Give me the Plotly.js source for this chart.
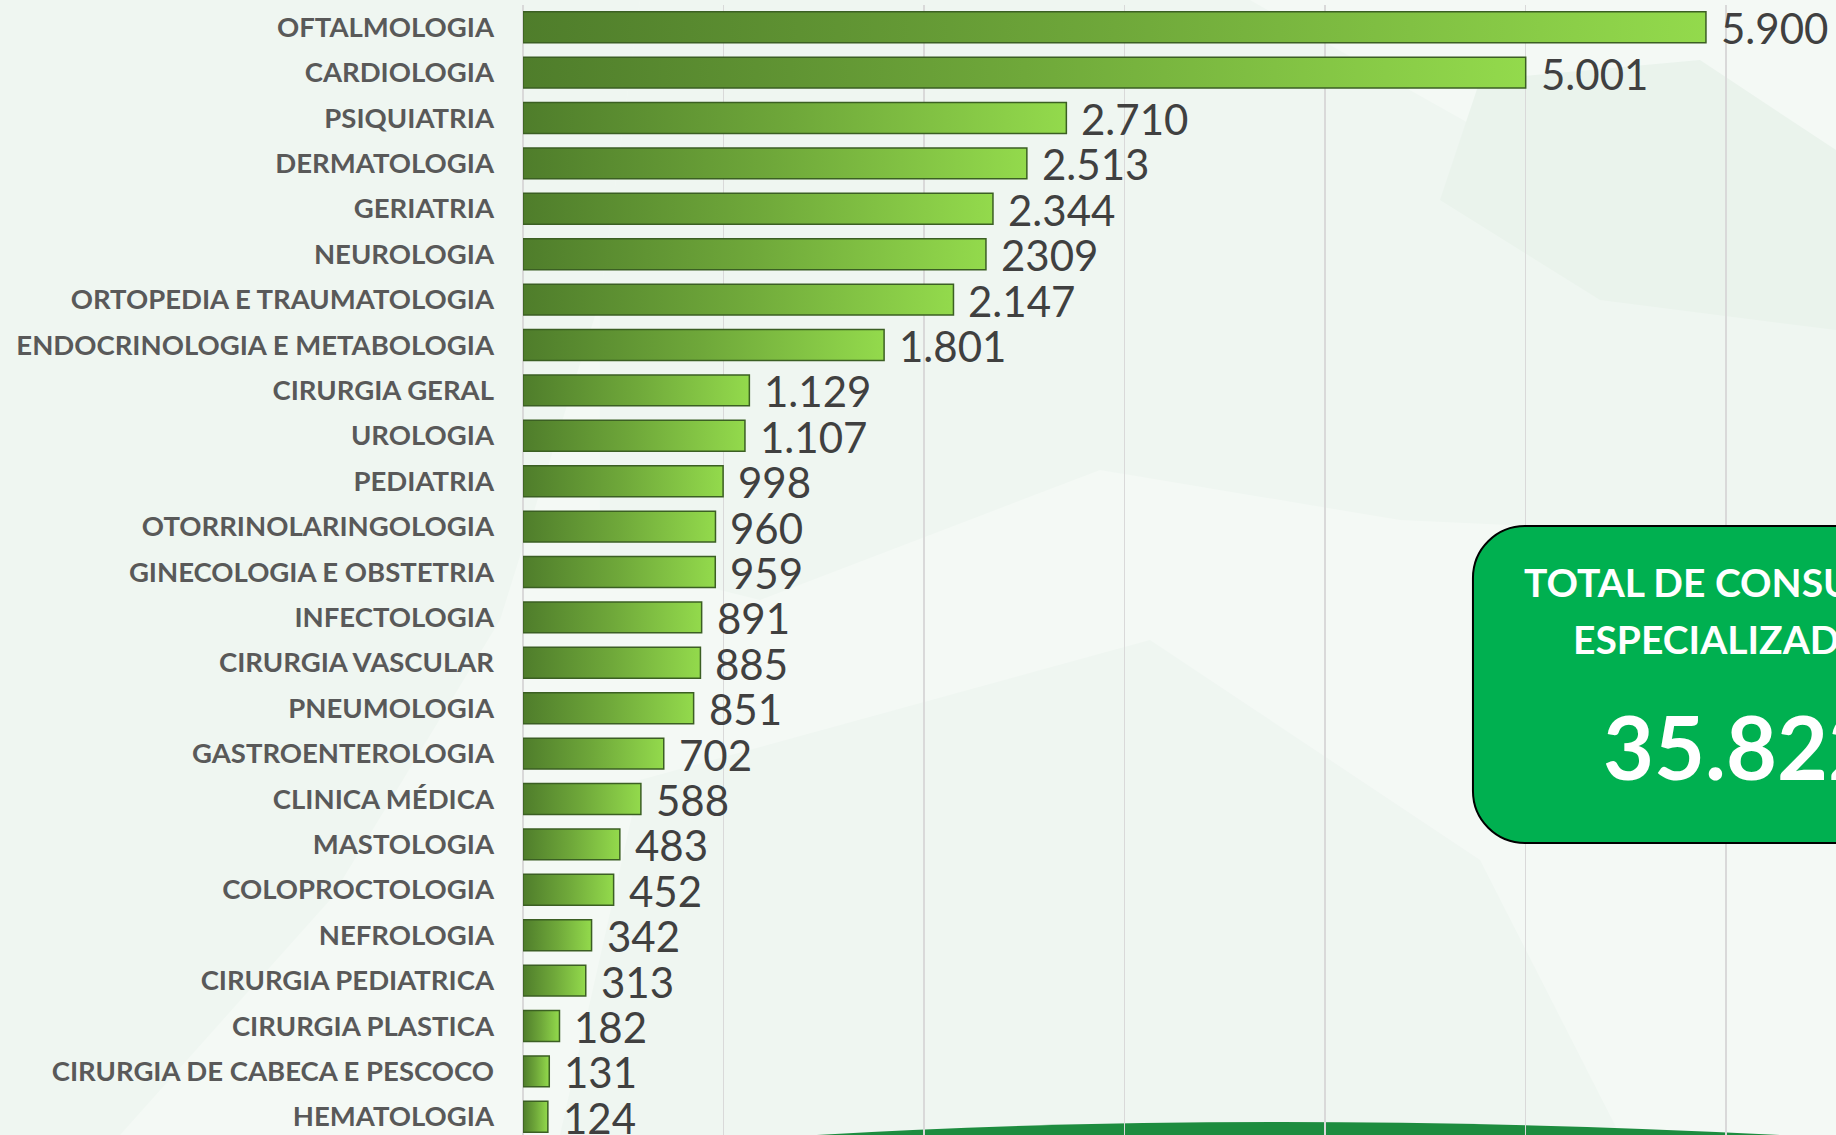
<!DOCTYPE html>
<html>
<head>
<meta charset="utf-8">
<script src="https://cdn.plot.ly/plotly-3.0.1.min.js"></script>
<style>
html,body{margin:0;padding:0;overflow:hidden;background:#ffffff;}
#chart{width:1836px;height:1135px;}
</style>
</head>
<body>
<div id="chart"></div>
<script>
// ---------- data ----------
const categories = [
  "OFTALMOLOGIA","CARDIOLOGIA","PSIQUIATRIA","DERMATOLOGIA","GERIATRIA","NEUROLOGIA",
  "ORTOPEDIA E TRAUMATOLOGIA","ENDOCRINOLOGIA E METABOLOGIA","CIRURGIA GERAL","UROLOGIA",
  "PEDIATRIA","OTORRINOLARINGOLOGIA","GINECOLOGIA E OBSTETRIA","INFECTOLOGIA","CIRURGIA VASCULAR",
  "PNEUMOLOGIA","GASTROENTEROLOGIA","CLINICA MÉDICA","MASTOLOGIA","COLOPROCTOLOGIA","NEFROLOGIA",
  "CIRURGIA PEDIATRICA","CIRURGIA PLASTICA","CIRURGIA DE CABECA E PESCOCO","HEMATOLOGIA"
];
const values = [5900,5001,2710,2513,2344,2309,2147,1801,1129,1107,998,960,959,891,885,851,702,588,483,452,342,313,182,131,124];
const valueLabels = ["5.900","5.001","2.710","2.513","2.344","2309","2.147","1.801","1.129","1.107","998","960","959","891","885","851","702","588","483","452","342","313","182","131","124"];
const gridTicks = [0,1000,2000,3000,4000,5000,6000];
const boxLine1 = "TOTAL DE CONSULTAS";
const boxLine2 = "ESPECIALIZADAS";
const boxTotal = "35.822";
const footNote = "Nota";

// ---------- geometry helpers (layout only) ----------
const W = 1836, H = 1135;
const ML = 523, MT = 5, MR = 0, MB = 0;
const PW = W - ML - MR, PH = H - MT - MB;
const px = x => (x - ML) / PW;
const py = y => 1 - (y - MT) / PH;
function poly(pts){
  return pts.map((p,i)=>(i?'L':'M')+px(p[0]).toFixed(4)+','+py(p[1]).toFixed(4)).join(' ')+' Z';
}
function roundRect(x0,y0,x1,y1,r){
  const k = 0.5523*r;
  const P = (x,y)=>px(x).toFixed(4)+','+py(y).toFixed(4);
  return 'M'+P(x0+r,y0)+' L'+P(x1-r,y0)+' C'+P(x1-r+k,y0)+' '+P(x1,y0+r-k)+' '+P(x1,y0+r)+
    ' L'+P(x1,y1-r)+' C'+P(x1,y1-r+k)+' '+P(x1-r+k,y1)+' '+P(x1-r,y1)+
    ' L'+P(x0+r,y1)+' C'+P(x0+r-k,y1)+' '+P(x0,y1-r+k)+' '+P(x0,y1-r)+
    ' L'+P(x0,y0+r)+' C'+P(x0,y0+r-k)+' '+P(x0+r-k,y0)+' '+P(x0+r,y0)+' Z';
}
const wm = '#eff6f1';
const wm2 = '#f4f9f5';
function wmShape(pts, col){
  return {type:'path', xref:'paper', yref:'paper', layer:'below', line:{width:0}, fillcolor:col, path:poly(pts)};
}
const shapes = [
  wmShape([[0,0],[1836,0],[1836,1135],[0,1135]], wm2),
  wmShape([[0,0],[640,0],[600,300],[500,620],[330,900],[120,1135],[0,1135]], wm),
  wmShape([[640,0],[1250,0],[1836,330],[1836,540],[1400,520],[1100,470],[760,600],[600,560],[600,300]], wm),
  wmShape([[640,780],[1150,640],[1480,860],[1620,1135],[560,1135]], wm),
  wmShape([[1480,80],[1700,60],[1836,150],[1836,330],[1600,300],[1440,200]], '#eaf3ec'),
  {type:'path', xref:'paper', yref:'paper', layer:'below', line:{width:0}, fillcolor:'#1d8c3f',
   path: 'M'+px(800)+','+py(1136)+' Q'+px(1260)+','+py(1108)+' '+px(1800)+','+py(1136)+' Z'},
  {type:'path', xref:'paper', yref:'paper', layer:'above', line:{width:2, color:'#000000'}, fillcolor:'#00b050',
   path: roundRect(1473,526,2150,843,52)}
];

const annotations = values.map((v,i)=>({
  x: v, y: categories[i], xref:'x', yref:'y', text: valueLabels[i],
  showarrow:false, xanchor:'left', yanchor:'middle', xshift:13, yshift:-1,
  font:{family:'Lato, "Open Sans", sans-serif', size:42, color:'#404040'}
}));
annotations.push(
  {xref:'paper', yref:'paper', x:px(1522), y:py(582), text:boxLine1, showarrow:false, xanchor:'left', yanchor:'middle',
   font:{family:'Lato, "Open Sans", sans-serif', size:39, color:'#ffffff', weight:'bold'}},
  {xref:'paper', yref:'paper', x:px(1571), y:py(639), text:boxLine2, showarrow:false, xanchor:'left', yanchor:'middle',
   font:{family:'Lato, "Open Sans", sans-serif', size:39, color:'#ffffff', weight:'bold'}},
  {xref:'paper', yref:'paper', x:px(1601), y:py(746), text:boxTotal, showarrow:false, xanchor:'left', yanchor:'middle',
   font:{family:'Lato, "Open Sans", sans-serif', size:88, color:'#ffffff', weight:'bold'}},
  {xref:'paper', yref:'paper', x:px(1790), y:py(1128), text:footNote, showarrow:false, xanchor:'left', yanchor:'top',
   font:{family:'Lato, sans-serif', size:18, color:'#000000'}}
);

const trace = {
  type:'bar', orientation:'h', x: values, y: categories,
  marker:{color:'#74ad3f', line:{color:'#3b5f23', width:1.5}},
  hoverinfo:'none'
};

const layout = {
  width: W, height: H,
  margin:{l:ML, r:MR, t:MT, b:MB, pad:0},
  paper_bgcolor:'#ffffff', plot_bgcolor:'rgba(0,0,0,0)',
  showlegend:false, bargap:0.32,
  xaxis:{range:[0, PW/0.2005], tickvals:gridTicks, showticklabels:false, showgrid:true,
         gridcolor:'#d9d9d9', gridwidth:1.5, zeroline:true, zerolinecolor:'#d9d9d9', zerolinewidth:1.5,
         showline:false, ticks:'', fixedrange:true},
  yaxis:{type:'category', categoryorder:'array', categoryarray:categories,
         range:[(H-27.2)/45.4, (MT-27.2)/45.4], showgrid:false, zeroline:false, showline:false, ticks:'',
         ticklabelstandoff:28,
         tickfont:{family:'Lato, "Open Sans", sans-serif', size:27.5, color:'#595959', weight:'bold'}, fixedrange:true},
  shapes: shapes,
  annotations: annotations
};

Plotly.newPlot('chart',[trace],layout,{staticPlot:true, displayModeBar:false}).then(gd=>{
  const svg = gd.querySelector('.main-svg');
  const defs = svg.querySelector('defs') || svg.insertBefore(document.createElementNS('http://www.w3.org/2000/svg','defs'), svg.firstChild);
  const g = document.createElementNS('http://www.w3.org/2000/svg','linearGradient');
  g.setAttribute('id','barGrad'); g.setAttribute('x1','0'); g.setAttribute('x2','1'); g.setAttribute('y1','0'); g.setAttribute('y2','0');
  [['0','#4f7d2b'],['0.5','#6fa83a'],['1','#93da4c']].forEach(s=>{
    const st = document.createElementNS('http://www.w3.org/2000/svg','stop');
    st.setAttribute('offset',s[0]); st.setAttribute('stop-color',s[1]); g.appendChild(st);
  });
  defs.appendChild(g);
  gd.querySelectorAll('.barlayer .point path').forEach(p=>{ p.style.fill = 'url(#barGrad)'; });
});
</script>
</body>
</html>
